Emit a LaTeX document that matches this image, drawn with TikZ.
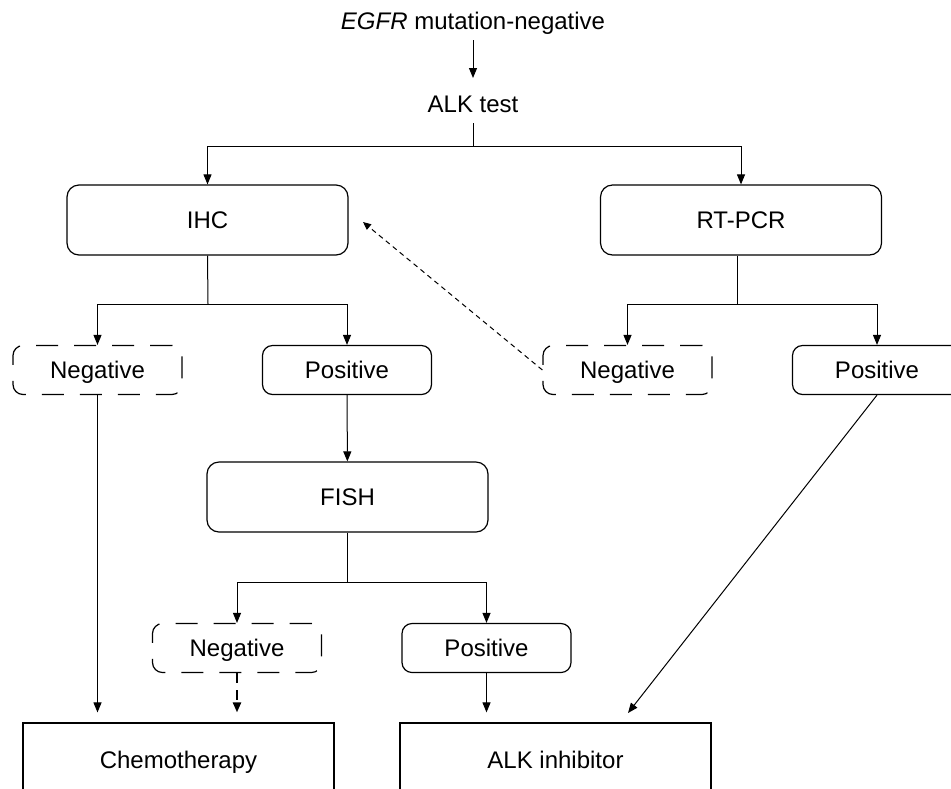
\documentclass[tikz,border=0pt]{standalone}
\usepackage{fontspec}
\setmainfont{Liberation Sans}
\usepackage{tikz}
\usetikzlibrary{arrows.meta,positioning}

\begin{document}
\begin{tikzpicture}[x=0.5pt, y=-0.5pt, font=\fontsize{12}{14}\selectfont, >={Triangle[length=5pt,width=4pt]}]
		\tikzstyle{Label}	= [inner sep=5pt, text height=8.6pt, text depth=0pt]
		\tikzstyle{Test}	= [draw, rounded corners=6pt, line width=0.6pt, minimum width=140.5pt, minimum height=35pt, text height=8.6pt, text depth=0pt]
		\tikzstyle{Pos}		= [draw, rounded corners=5pt, line width=0.6pt, minimum width=84.5pt, minimum height=24.5pt, text height=8.6pt, text depth=0pt]
		\tikzstyle{Neg}		= [Pos, dash pattern=on 11pt off 8pt]
		\tikzstyle{Therapy}	= [draw, line width=0.6pt, minimum width=155.5pt, minimum height=37pt, text height=8.6pt, text depth=0pt]
		\tikzstyle{Line}	= [line width=0.5pt]
		\tikzstyle{Back}	= [line width=0.5pt, dash pattern=on 2.5pt off 2pt, -{Triangle[length=4pt,width=3.5pt]}]
		\tikzstyle{Weak}	= [line width=1.1pt, dash pattern=on 5pt off 3.5pt]

		\useasboundingbox (0, 0) rectangle (951, 788);

		\node (egfr) at (473, 21) [Label] {\textit{EGFR} mutation-negative};
		\node (alk) at (473, 104) [Label] {ALK test};
		\coordinate (j0) at (473, 146);

		\node (ihc) at (207.5, 220) [Test] {IHC};
		\node (rtpcr) at (741, 220) [Test] {RT-PCR};
		\coordinate (j1) at (208, 304);
		\coordinate (j3) at (737, 304);

		\node (neg1) at (97.5, 370) [Neg] {Negative};
		\node (pos1) at (347, 370) [Pos] {Positive};
		\node (neg2) at (627.5, 370) [Neg] {Negative};
		\node (pos2) at (877, 370) [Pos] {Positive};

		\node (fish) at (347.5, 497) [Test] {FISH};
		\coordinate (j2) at (347, 582);

		\node (neg3) at (237, 648) [Neg] {Negative};
		\node (pos3) at (486.5, 648) [Pos] {Positive};

		\node (chemo) at (178.5, 760) [Therapy] {Chemotherapy};
		\node (alkinh) at (555.5, 760) [Therapy] {ALK inhibitor};
		\coordinate (tip) at (628, 713);
		\coordinate (back) at (363, 222);

		\draw [->, shorten >=3.5pt] (egfr) to (alk) [Line];
		\draw [-] (alk) to (j0) [Line];
		\draw [->] (j0) -| (ihc.north) [Line];
		\draw [->] (j0) -| (rtpcr.north) [Line];

		\draw [-] (ihc.south) to (j1) [Line];
		\draw [->] (j1) -| (neg1.north) [Line];
		\draw [->] (j1) -| (pos1.north) [Line];
		\draw [-] (rtpcr.south -| j3) to (j3) [Line];
		\draw [->] (j3) -| (neg2.north) [Line];
		\draw [->] (j3) -| (pos2.north) [Line];

		\draw [->] (pos1) to (fish) [Line];
		\draw [-] (fish.south -| j2) to (j2) [Line];
		\draw [->] (j2) -| (neg3.north) [Line];
		\draw [->] (j2) -| (pos3.north) [Line];

		\draw [->, shorten >=5pt] (neg1) to (neg1 |- chemo.north) [Line];
		\draw [->, shorten >=5pt] (neg3) to (neg3 |- chemo.north) [Weak];
		\draw [->, shorten >=5pt] (pos3) to (pos3 |- alkinh.north) [Line];
		\draw [->] (pos2.south) to (tip) [Line];
		\draw (neg2.west) to (back) [Back];
	\end{tikzpicture}
\end{document}
